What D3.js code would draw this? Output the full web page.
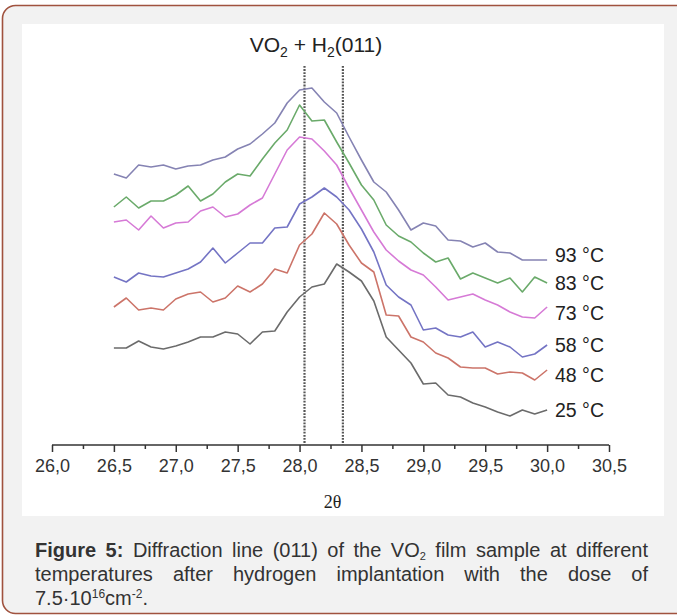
<!DOCTYPE html>
<html>
<head>
<meta charset="utf-8">
<script src="https://cdn.jsdelivr.net/npm/d3@7"></script>
<style>
  body { margin: 0; background: #fff; }
  svg { display: block; }
</style>
</head>
<body>
<div id="chart"></div>
<script>
const width = 677;
const height = 615;

// 2theta positions of the measured points
const thetas = [26.5, 26.6, 26.7, 26.8, 26.9, 27.0, 27.1, 27.2, 27.3, 27.4, 27.5, 27.6,
                27.7, 27.8, 27.9, 28.0, 28.1, 28.2, 28.3, 28.4, 28.5, 28.6, 28.7, 28.8,
                28.9, 29.0, 29.1, 29.2, 29.3, 29.4, 29.5, 29.6, 29.7, 29.8, 29.9, 30.0];

const temps = ['93 °C', '83 °C', '73 °C', '58 °C', '48 °C', '25 °C'];

// intensity (a.u., curves shifted vertically as in the figure)
const int93 = [271, 267, 280, 278, 280, 276, 279, 280, 285, 288, 296, 301, 311, 322, 342, 355, 357, 343,
               332, 308, 285, 263, 253, 235, 215, 222, 219, 205, 204, 198, 202, 193, 192, 185, 185, 185];
const int83 = [238, 248, 237, 244, 244, 250, 259, 244, 251, 263, 271, 269, 286, 302, 315, 340, 324, 325,
               303, 282, 260, 245, 220, 209, 203, 192, 183, 187, 166, 172, 167, 162, 167, 153, 168, 162];
const int73 = [223, 225, 215, 229, 217, 222, 223, 234, 238, 228, 231, 240, 247, 271, 295, 308, 306, 294,
               280, 257, 235, 213, 195, 184, 175, 170, 158, 145, 148, 151, 145, 140, 133, 128, 127, 138];
const int58 = [168, 163, 172, 169, 168, 172, 176, 183, 197, 182, 192, 202, 202, 217, 218, 241, 248, 257,
               248, 235, 216, 193, 160, 148, 140, 115, 117, 110, 108, 113, 98, 103, 98, 88, 91, 100];
const int48 = [138, 147, 135, 137, 135, 146, 151, 153, 143, 147, 159, 153, 161, 176, 172, 200, 211, 232,
               221, 200, 182, 173, 130, 129, 108, 103, 92, 87, 78, 77, 77, 71, 73, 72, 65, 75];
const int25 = [97, 97, 104, 98, 96, 99, 103, 108, 108, 113, 111, 101, 113, 114, 133, 148, 158, 161,
               181, 173, 164, 144, 108, 95, 82, 61, 62, 50, 48, 42, 38, 33, 29, 35, 31, 35];

const peakLines = [28.04, 28.35];
const majorTicks = [26.0, 26.5, 27.0, 27.5, 28.0, 28.5, 29.0, 29.5, 30.0, 30.5];
const minorTicks = [26.25, 26.75, 27.25, 27.75, 28.25, 28.75, 29.25, 29.75, 30.25];

const series = [int93, int83, int73, int58, int48, int25];
const colors = ['#8583b3', '#6aaa6a', '#d67ad6', '#7474c4', '#cc7469', '#6b6b6b'];
const labelShift = [-5, 0, 6, 0, 5, 0];

const svg = d3.select('#chart').append('svg')
  .attr('width', width)
  .attr('height', height);

// frame
svg.append('rect')
  .attr('x', 2.5).attr('y', 5.5)
  .attr('width', 700).attr('height', 608)
  .attr('rx', 13)
  .attr('fill', '#f2f2f2')
  .attr('stroke', '#a0523e')
  .attr('stroke-width', 1.6);
svg.append('rect')
  .attr('x', 22).attr('y', 24)
  .attr('width', 642).attr('height', 492)
  .attr('fill', '#ffffff');

const x = d3.scaleLinear().domain([26, 30.5]).range([52, 609]);
const y = d3.scaleLinear().domain([0, 400]).range([445, 45]);

// axis
const axisG = svg.append('g').attr('transform', `translate(0,${y(0)})`);
axisG.call(d3.axisBottom(x)
    .tickValues(majorTicks)
    .tickSize(7)
    .tickPadding(7)
    .tickFormat(d => d.toFixed(1).replace('.', ',')));
axisG.select('.domain').attr('d', `M${x(26)},0H${x(30.5)}`);
axisG.selectAll('path, line').attr('stroke', '#333').attr('stroke-width', 1.5);
axisG.selectAll('text')
  .attr('fill', '#333')
  .attr('font-family', '"Liberation Sans", Arial, sans-serif')
  .attr('font-size', 18);

const minorG = svg.append('g').attr('transform', `translate(0,${y(0)})`);
minorG.call(d3.axisBottom(x).tickValues(minorTicks).tickSize(4).tickFormat(''));
minorG.select('.domain').remove();
minorG.selectAll('line').attr('stroke', '#333').attr('stroke-width', 1.5);

svg.append('text')
  .attr('x', (x(26) + x(30.5)) / 2 + 2)
  .attr('y', 508)
  .attr('text-anchor', 'middle')
  .attr('font-family', '"Liberation Serif", "Times New Roman", serif')
  .attr('font-size', 18)
  .attr('fill', '#222')
  .text('2θ');

// dotted reference lines
svg.append('g')
  .selectAll('line')
  .data(peakLines)
  .join('line')
    .attr('x1', d => x(d)).attr('x2', d => x(d))
    .attr('y1', 66).attr('y2', y(0))
    .attr('stroke', '#555')
    .attr('stroke-width', 2.2)
    .attr('stroke-dasharray', '1.8,1.3');

// curves
const line = d3.line()
  .x((d, i) => x(thetas[i]))
  .y(d => y(d));

svg.append('g')
  .selectAll('path')
  .data(series)
  .join('path')
    .attr('d', d => line(d))
    .attr('fill', 'none')
    .attr('stroke', (d, i) => colors[i])
    .attr('stroke-width', 1.6)
    .attr('stroke-linejoin', 'round');

svg.append('g')
  .selectAll('text')
  .data(series)
  .join('text')
    .attr('x', 555)
    .attr('y', (d, i) => y(d[d.length - 1]) + labelShift[i] + 7)
    .attr('font-family', '"Liberation Sans", Arial, sans-serif')
    .attr('font-size', 19.5)
    .attr('fill', '#222')
    .text((d, i) => temps[i]);

// title
const title = svg.append('text')
  .attr('x', 316).attr('y', 52)
  .attr('text-anchor', 'middle')
  .attr('font-family', '"Liberation Sans", Arial, sans-serif')
  .attr('font-size', 21)
  .attr('fill', '#222');
title.append('tspan').text('VO');
title.append('tspan').attr('font-size', 14).attr('dy', 5).text('2');
title.append('tspan').attr('dy', -5).text(' + H');
title.append('tspan').attr('font-size', 14).attr('dy', 5).text('2');
title.append('tspan').attr('dy', -5).text('(011)');

// caption
const capX = 35;
const capW = 613;
function captionLine(yPos, parts, justify) {
  const t = svg.append('text')
    .attr('x', capX).attr('y', yPos)
    .attr('font-family', '"Liberation Sans", Arial, sans-serif')
    .attr('font-size', 20)
    .attr('fill', '#333');
  parts.forEach(p => {
    const ts = t.append('tspan').text(p.text);
    if (p.bold) ts.attr('font-weight', 'bold');
    if (p.dy) ts.attr('dy', p.dy);
    if (p.size) ts.attr('font-size', p.size);
  });
  if (justify) {
    const natural = t.node().getComputedTextLength();
    const spaces = parts.map(p => p.text).join('').split(' ').length - 1;
    t.style('word-spacing', ((capW - natural) / spaces) + 'px');
  }
}
captionLine(557, [
  { text: 'Figure 5:', bold: true },
  { text: ' Diffraction line (011) of the VO' },
  { text: '2', dy: 3, size: 11 },
  { text: ' film sample at different', dy: -3 }
], true);
captionLine(581, [{ text: 'temperatures after hydrogen implantation with the dose of' }], true);
captionLine(605, [
  { text: '7.5·10' },
  { text: '16', dy: -7, size: 12 },
  { text: 'cm', dy: 7 },
  { text: '-2', dy: -7, size: 12 },
  { text: '.', dy: 7 }
], false);
</script>
</body>
</html>
